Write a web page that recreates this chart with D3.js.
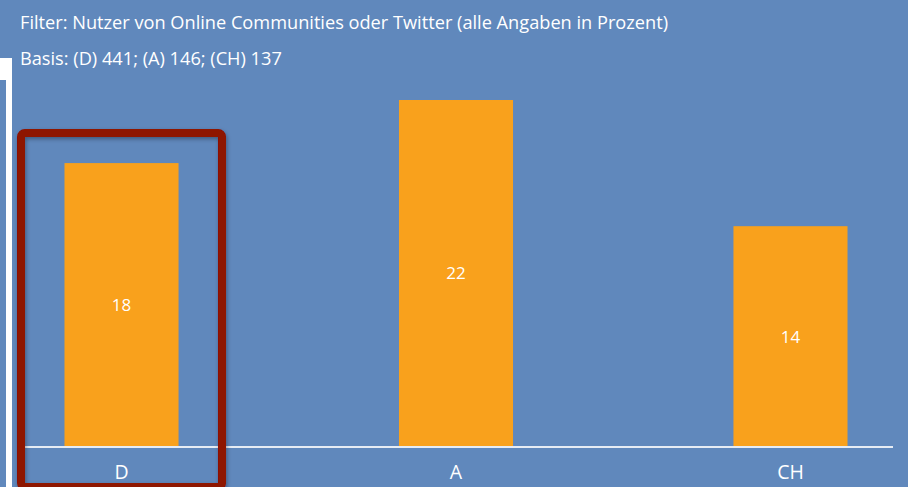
<!DOCTYPE html>
<html lang="de">
<head>
<meta charset="utf-8">
<title>Nutzer von Online Communities</title>
<script src="https://d3js.org/d3.v7.min.js"></script>
<style>
  html, body { margin: 0; padding: 0; background: #6088bc; }
  svg { display: block; }
  text { font-family: "Open Sans", "DejaVu Sans", sans-serif; fill: #fff; }
</style>
</head>
<body>
<script>
// Werte
var laender = ["D", "A", "CH"];
var werte = [18, 22, 14];
var kopfzeilen = [
  "Filter: Nutzer von Online Communities oder Twitter (alle Angaben in Prozent)",
  "Basis: (D) 441; (A) 146; (CH) 137"
];
var markiert = "D";

var W = 908, H = 487;
var bg = "#6088bc";

var svg = d3.select("body").append("svg")
    .attr("width", W)
    .attr("height", H);

svg.append("rect")
    .attr("width", W)
    .attr("height", H)
    .attr("fill", bg);

// weisser Rahmen links
svg.append("rect")
    .attr("x", 0).attr("y", 58)
    .attr("width", 12).attr("height", H - 58)
    .attr("fill", "#fff");
svg.append("rect")
    .attr("x", 0).attr("y", 80)
    .attr("width", 6).attr("height", H - 80)
    .attr("fill", bg);

svg.selectAll("text.kopf")
    .data(kopfzeilen)
    .enter()
    .append("text")
    .attr("class", "kopf")
    .attr("x", 20)
    .attr("y", function(d, i) { return 29 + i * 36; })
    .style("font-size", "18.2px")
    .text(function(d) { return d; });

var x = d3.scaleBand()
    .domain(laender)
    .range([20, 892])
    .paddingInner(0.659)
    .paddingOuter(0.133);

var y = d3.scaleLinear()
    .domain([0, 22])
    .range([447, 100]);

var daten = laender.map(function(k, i) {
    return { land: k, wert: werte[i] };
});

var bars = svg.selectAll("g.bar")
    .data(daten)
    .enter()
    .append("g")
    .attr("class", "bar");

bars.append("rect")
    .attr("x", function(d) { return x(d.land); })
    .attr("y", function(d) { return y(d.wert); })
    .attr("width", x.bandwidth())
    .attr("height", function(d) { return y(0) - y(d.wert); })
    .attr("fill", "#f9a11c");

bars.append("text")
    .attr("x", function(d) { return x(d.land) + x.bandwidth() / 2; })
    .attr("y", function(d) { return (y(d.wert) + y(0)) / 2; })
    .attr("dy", "0.35em")
    .attr("text-anchor", "middle")
    .style("font-size", "17px")
    .text(function(d) { return d.wert; });

// Grundlinie
svg.append("line")
    .attr("x1", 20).attr("x2", 893)
    .attr("y1", y(0)).attr("y2", y(0))
    .attr("stroke", "#e6ecf4")
    .attr("stroke-width", 2);

svg.selectAll("text.cat")
    .data(laender)
    .enter()
    .append("text")
    .attr("class", "cat")
    .attr("x", function(d) { return x(d) + x.bandwidth() / 2; })
    .attr("y", 479)
    .attr("text-anchor", "middle")
    .style("font-size", "19.5px")
    .text(function(d) { return d; });

// Markierung um D
var defs = svg.append("defs");
var f = defs.append("filter").attr("id", "schatten")
    .attr("x", "-10%").attr("y", "-10%")
    .attr("width", "120%").attr("height", "120%");
f.append("feDropShadow")
    .attr("dx", 1).attr("dy", 2)
    .attr("stdDeviation", 2)
    .attr("flood-color", "#000")
    .attr("flood-opacity", 0.35);

var cx = x(markiert) + x.bandwidth() / 2;
svg.append("rect")
    .attr("x", cx - 100.5)
    .attr("y", 133)
    .attr("width", 201)
    .attr("height", 354)
    .attr("rx", 4)
    .attr("fill", "none")
    .attr("stroke", "#8e1200")
    .attr("stroke-width", 8)
    .attr("filter", "url(#schatten)");
</script>
</body>
</html>
